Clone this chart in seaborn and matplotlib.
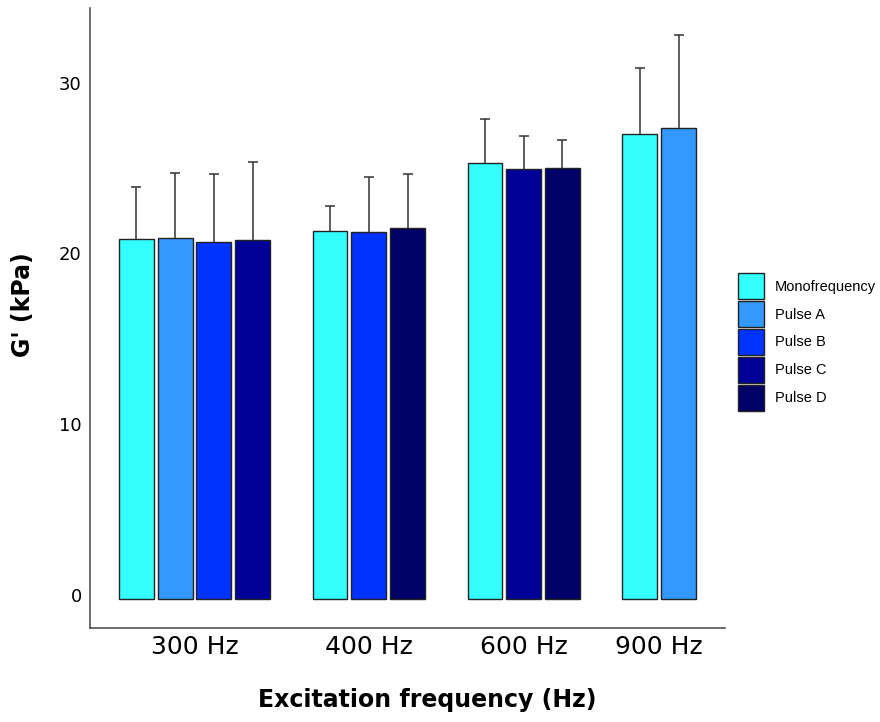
import numpy as np
import pandas as pd
import matplotlib
matplotlib.use('Agg')
import matplotlib.pyplot as plt
import matplotlib.transforms as mtransforms
from matplotlib.patches import Patch
import seaborn as sns

# ---------------- data ----------------
frequencies = ['300 Hz', '400 Hz', '600 Hz', '900 Hz']
series_names = ['Monofrequency', 'Pulse A', 'Pulse B', 'Pulse C', 'Pulse D']
series_colors = ['#33FFFF', '#3399FF', '#0033FF', '#000099', '#000066']

bar_freq = ['300 Hz'] * 4 + ['400 Hz'] * 3 + ['600 Hz'] * 3 + ['900 Hz'] * 2
bar_series = ['Monofrequency', 'Pulse A', 'Pulse B', 'Pulse C',
              'Monofrequency', 'Pulse B', 'Pulse D',
              'Monofrequency', 'Pulse C', 'Pulse D',
              'Monofrequency', 'Pulse A']
bar_mean = [21.1, 21.15, 20.9, 21.0,
            21.55, 21.5, 21.7,
            25.5, 25.2, 25.25,
            27.2, 27.6]
bar_sd = [3.0, 3.8, 4.0, 4.6,
          1.45, 3.2, 3.2,
          2.6, 1.9, 1.65,
          3.9, 5.4]
y_ticks = [0, 10, 20, 30]

# positions: consecutive slots, one empty slot between frequency groups
group_idx = [frequencies.index(f) for f in bar_freq]
positions = [i + g for i, g in enumerate(group_idx)]

df = pd.DataFrame({'freq': bar_freq, 'series': bar_series, 'mean': bar_mean,
                   'sd': bar_sd, 'pos': positions})

# ---------------- plot ----------------
sns.set_style('white')
plt.rcParams['font.family'] = ['DejaVu Sans']
plt.rcParams['text.color'] = 'black'
plt.rcParams['axes.labelcolor'] = 'black'
plt.rcParams['xtick.color'] = 'black'
plt.rcParams['ytick.color'] = 'black'

fig = plt.figure(figsize=(8.8, 7.22), dpi=100)
ax = fig.add_axes([90 / 880, 1 - 628 / 722, 635 / 880, 620 / 722])

palette = dict(zip(series_names, series_colors))
sns.barplot(data=df, x='pos', y='mean', hue='series', hue_order=series_names,
            palette=palette, native_scale=True, dodge=False, width=0.9,
            edgecolor='#222222', linewidth=1, errorbar=None, legend=False,
            saturation=1, ax=ax)

eb = ax.errorbar(df['pos'], df['mean'], yerr=[np.zeros(len(df)), df['sd']],
                 fmt='none', ecolor='#333333', elinewidth=1.1, capsize=3.6,
                 capthick=1.1, zorder=3)
# one-sided error bars: hide the lower caps
eb[1][0].set_visible(False)

ax.set_xlim(-1.2, 15.2)
ax.set_ylim(-1.7, 34.6)

centers = df.groupby('freq', sort=False)['pos'].mean()
ax.set_xticks(centers.values)
ax.set_xticklabels(frequencies, fontsize=18)
ax.set_yticks(y_ticks)
ax.set_yticklabels([str(t) for t in y_ticks], fontsize=13)
ax.tick_params(axis='both', length=0)
ax.tick_params(axis='x', pad=5)
ax.tick_params(axis='y', pad=6)
offset = mtransforms.ScaledTranslation(0, 0.04, fig.dpi_scale_trans)
for lab in ax.get_yticklabels():
    lab.set_transform(lab.get_transform() + offset)

for s in ['top', 'right']:
    ax.spines[s].set_visible(False)
for s in ['left', 'bottom']:
    ax.spines[s].set_color('#444444')
    ax.spines[s].set_linewidth(1.1)

ax.set_xlabel('Excitation frequency (Hz)', fontsize=17, fontweight='bold')
ax.xaxis.set_label_coords((427 - 90) / 635, -(700 - 628) / 620)
ax.xaxis.label.set_va('center')
ax.set_ylabel("G' (kPa)", fontsize=17, fontweight='bold')
ax.yaxis.set_label_coords((23 - 90) / 635, (628 - 305) / 620)
ax.yaxis.label.set_va('center')

handles = [Patch(facecolor=c, edgecolor='#222222', linewidth=1, label=n)
           for n, c in zip(series_names, series_colors)]
fig.legend(handles=handles, loc='center left',
           bbox_to_anchor=(738 / 880, 1 - 342 / 722), frameon=False,
           prop={'family': 'Liberation Sans', 'size': 10.5},
           handlelength=1.78, handleheight=2.36, labelspacing=0.14,
           handletextpad=0.75, borderpad=0, borderaxespad=0)

fig.savefig('out.png', dpi=100, facecolor='white')
